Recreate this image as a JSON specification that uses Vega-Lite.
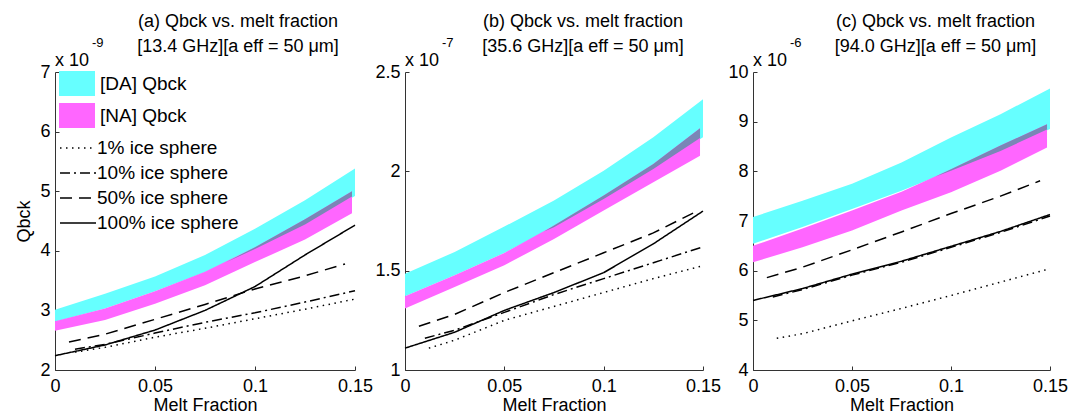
{
  "$schema": "https://vega.github.io/schema/vega-lite/v6.json",
  "background": "white",
  "padding": {"left": 15, "top": 13, "right": 5, "bottom": 0},
  "bounds": "flush",
  "spacing": 50,
  "config": {
    "font": "Liberation Sans",
    "view": {"stroke": null},
    "axis": {
      "labelFont": "Liberation Sans", "labelFontSize": 18, "labelColor": "#000",
      "titleFont": "Liberation Sans", "titleFontSize": 18, "titleFontWeight": "normal", "titleColor": "#000",
      "domainColor": "#333", "tickColor": "#333", "tickSize": -4, "labelPadding": 9,
      "grid": false, "labelFlush": false, "labelOverlap": false
    },
    "axisX": {"labelPadding": 11, "titlePadding": 1},
    "scale": {"nice": false, "zero": false},
    "title": {"font": "Liberation Sans", "fontSize": 18, "fontWeight": "normal", "color": "#000", "lineHeight": 25, "anchor": "middle", "offset": -19},
    "legend": {"labelFont": "Liberation Sans", "labelFontSize": 19, "labelColor": "#000", "padding": 0}
  },
  "datasets": {
    "bands": [
      {"p": "a", "m": "DA", "x": 0, "lo": 2.81, "hi": 3.01},
      {"p": "a", "m": "DA", "x": 0.025, "lo": 3.03, "hi": 3.28},
      {"p": "a", "m": "DA", "x": 0.05, "lo": 3.32, "hi": 3.57},
      {"p": "a", "m": "DA", "x": 0.075, "lo": 3.64, "hi": 3.93},
      {"p": "a", "m": "DA", "x": 0.1, "lo": 4.03, "hi": 4.37},
      {"p": "a", "m": "DA", "x": 0.125, "lo": 4.44, "hi": 4.85},
      {"p": "a", "m": "DA", "x": 0.15, "lo": 4.92, "hi": 5.38},
      {"p": "a", "m": "NA", "x": 0, "lo": 2.66, "hi": 2.82},
      {"p": "a", "m": "NA", "x": 0.025, "lo": 2.84, "hi": 3.03},
      {"p": "a", "m": "NA", "x": 0.05, "lo": 3.11, "hi": 3.32},
      {"p": "a", "m": "NA", "x": 0.075, "lo": 3.42, "hi": 3.65},
      {"p": "a", "m": "NA", "x": 0.1, "lo": 3.81, "hi": 4.06},
      {"p": "a", "m": "NA", "x": 0.125, "lo": 4.19, "hi": 4.53},
      {"p": "a", "m": "NA", "x": 0.1485, "lo": 4.63, "hi": 5.0},
      {"p": "b", "m": "DA", "x": 0, "lo": 1.371, "hi": 1.485},
      {"p": "b", "m": "DA", "x": 0.025, "lo": 1.477, "hi": 1.594},
      {"p": "b", "m": "DA", "x": 0.05, "lo": 1.589, "hi": 1.722},
      {"p": "b", "m": "DA", "x": 0.075, "lo": 1.719, "hi": 1.853},
      {"p": "b", "m": "DA", "x": 0.1, "lo": 1.861, "hi": 2.003},
      {"p": "b", "m": "DA", "x": 0.125, "lo": 2.012, "hi": 2.171},
      {"p": "b", "m": "DA", "x": 0.15, "lo": 2.171, "hi": 2.363},
      {"p": "b", "m": "NA", "x": 0, "lo": 1.309, "hi": 1.371},
      {"p": "b", "m": "NA", "x": 0.025, "lo": 1.418, "hi": 1.477},
      {"p": "b", "m": "NA", "x": 0.05, "lo": 1.527, "hi": 1.589},
      {"p": "b", "m": "NA", "x": 0.075, "lo": 1.66, "hi": 1.727},
      {"p": "b", "m": "NA", "x": 0.1, "lo": 1.803, "hi": 1.878},
      {"p": "b", "m": "NA", "x": 0.125, "lo": 1.945, "hi": 2.037},
      {"p": "b", "m": "NA", "x": 0.1485, "lo": 2.079, "hi": 2.217},
      {"p": "c", "m": "DA", "x": 0, "lo": 6.54, "hi": 7.08},
      {"p": "c", "m": "DA", "x": 0.025, "lo": 6.88, "hi": 7.41},
      {"p": "c", "m": "DA", "x": 0.05, "lo": 7.24, "hi": 7.75},
      {"p": "c", "m": "DA", "x": 0.075, "lo": 7.61, "hi": 8.18},
      {"p": "c", "m": "DA", "x": 0.1, "lo": 8.01, "hi": 8.68},
      {"p": "c", "m": "DA", "x": 0.125, "lo": 8.41, "hi": 9.15},
      {"p": "c", "m": "DA", "x": 0.15, "lo": 8.85, "hi": 9.67},
      {"p": "c", "m": "NA", "x": 0, "lo": 6.17, "hi": 6.5},
      {"p": "c", "m": "NA", "x": 0.025, "lo": 6.47, "hi": 6.85},
      {"p": "c", "m": "NA", "x": 0.05, "lo": 6.81, "hi": 7.21},
      {"p": "c", "m": "NA", "x": 0.075, "lo": 7.21, "hi": 7.59},
      {"p": "c", "m": "NA", "x": 0.1, "lo": 7.58, "hi": 8.04},
      {"p": "c", "m": "NA", "x": 0.125, "lo": 8.01, "hi": 8.52},
      {"p": "c", "m": "NA", "x": 0.1485, "lo": 8.48, "hi": 8.95}
    ],
    "overlap": [
      {"p": "a", "x": 0.085, "lo": 3.8, "hi": 3.8},
      {"p": "a", "x": 0.1, "lo": 4.03, "hi": 4.06},
      {"p": "a", "x": 0.125, "lo": 4.44, "hi": 4.53},
      {"p": "a", "x": 0.1485, "lo": 4.91, "hi": 5.0},
      {"p": "b", "x": 0.07, "lo": 1.697, "hi": 1.697},
      {"p": "b", "x": 0.075, "lo": 1.719, "hi": 1.727},
      {"p": "b", "x": 0.1, "lo": 1.861, "hi": 1.878},
      {"p": "b", "x": 0.125, "lo": 2.012, "hi": 2.037},
      {"p": "b", "x": 0.1485, "lo": 2.168, "hi": 2.217},
      {"p": "c", "x": 0.092, "lo": 7.89, "hi": 7.89},
      {"p": "c", "x": 0.1, "lo": 8.01, "hi": 8.04},
      {"p": "c", "x": 0.125, "lo": 8.41, "hi": 8.52},
      {"p": "c", "x": 0.1485, "lo": 8.84, "hi": 8.95}
    ],
    "lines": [
      {"p": "a", "s": "100%", "x": 0, "q": 2.24},
      {"p": "a", "s": "100%", "x": 0.025, "q": 2.42},
      {"p": "a", "s": "100%", "x": 0.05, "q": 2.67},
      {"p": "a", "s": "100%", "x": 0.075, "q": 3.0},
      {"p": "a", "s": "100%", "x": 0.1, "q": 3.4},
      {"p": "a", "s": "100%", "x": 0.125, "q": 3.93},
      {"p": "a", "s": "100%", "x": 0.15, "q": 4.43},
      {"p": "a", "s": "50%", "x": 0.007, "q": 2.47},
      {"p": "a", "s": "50%", "x": 0.025, "q": 2.6},
      {"p": "a", "s": "50%", "x": 0.05, "q": 2.85},
      {"p": "a", "s": "50%", "x": 0.075, "q": 3.1},
      {"p": "a", "s": "50%", "x": 0.1, "q": 3.36},
      {"p": "a", "s": "50%", "x": 0.125, "q": 3.58},
      {"p": "a", "s": "50%", "x": 0.145, "q": 3.78},
      {"p": "a", "s": "10%", "x": 0.01, "q": 2.35},
      {"p": "a", "s": "10%", "x": 0.025, "q": 2.43},
      {"p": "a", "s": "10%", "x": 0.05, "q": 2.62},
      {"p": "a", "s": "10%", "x": 0.075, "q": 2.8},
      {"p": "a", "s": "10%", "x": 0.1, "q": 2.96},
      {"p": "a", "s": "10%", "x": 0.125, "q": 3.14},
      {"p": "a", "s": "10%", "x": 0.15, "q": 3.33},
      {"p": "a", "s": "1%", "x": 0.01, "q": 2.3},
      {"p": "a", "s": "1%", "x": 0.025, "q": 2.38},
      {"p": "a", "s": "1%", "x": 0.05, "q": 2.55},
      {"p": "a", "s": "1%", "x": 0.075, "q": 2.7},
      {"p": "a", "s": "1%", "x": 0.1, "q": 2.86},
      {"p": "a", "s": "1%", "x": 0.125, "q": 3.02},
      {"p": "a", "s": "1%", "x": 0.15, "q": 3.19},
      {"p": "b", "s": "100%", "x": 0, "q": 1.11},
      {"p": "b", "s": "100%", "x": 0.025, "q": 1.19},
      {"p": "b", "s": "100%", "x": 0.05, "q": 1.3},
      {"p": "b", "s": "100%", "x": 0.075, "q": 1.39},
      {"p": "b", "s": "100%", "x": 0.1, "q": 1.49},
      {"p": "b", "s": "100%", "x": 0.125, "q": 1.635},
      {"p": "b", "s": "100%", "x": 0.15, "q": 1.8},
      {"p": "b", "s": "50%", "x": 0.007, "q": 1.22},
      {"p": "b", "s": "50%", "x": 0.025, "q": 1.28},
      {"p": "b", "s": "50%", "x": 0.05, "q": 1.39},
      {"p": "b", "s": "50%", "x": 0.075, "q": 1.49},
      {"p": "b", "s": "50%", "x": 0.1, "q": 1.59},
      {"p": "b", "s": "50%", "x": 0.125, "q": 1.69},
      {"p": "b", "s": "50%", "x": 0.145, "q": 1.79},
      {"p": "b", "s": "10%", "x": 0.01, "q": 1.16},
      {"p": "b", "s": "10%", "x": 0.025, "q": 1.2},
      {"p": "b", "s": "10%", "x": 0.05, "q": 1.29},
      {"p": "b", "s": "10%", "x": 0.075, "q": 1.38},
      {"p": "b", "s": "10%", "x": 0.1, "q": 1.46},
      {"p": "b", "s": "10%", "x": 0.125, "q": 1.54},
      {"p": "b", "s": "10%", "x": 0.15, "q": 1.62},
      {"p": "b", "s": "1%", "x": 0.012, "q": 1.11},
      {"p": "b", "s": "1%", "x": 0.025, "q": 1.15},
      {"p": "b", "s": "1%", "x": 0.05, "q": 1.25},
      {"p": "b", "s": "1%", "x": 0.075, "q": 1.32},
      {"p": "b", "s": "1%", "x": 0.1, "q": 1.39},
      {"p": "b", "s": "1%", "x": 0.125, "q": 1.46},
      {"p": "b", "s": "1%", "x": 0.15, "q": 1.525},
      {"p": "c", "s": "100%", "x": 0, "q": 5.4},
      {"p": "c", "s": "100%", "x": 0.025, "q": 5.64},
      {"p": "c", "s": "100%", "x": 0.05, "q": 5.93},
      {"p": "c", "s": "100%", "x": 0.075, "q": 6.19},
      {"p": "c", "s": "100%", "x": 0.1, "q": 6.49},
      {"p": "c", "s": "100%", "x": 0.125, "q": 6.79},
      {"p": "c", "s": "100%", "x": 0.15, "q": 7.13},
      {"p": "c", "s": "50%", "x": 0.007, "q": 5.86},
      {"p": "c", "s": "50%", "x": 0.025, "q": 6.07},
      {"p": "c", "s": "50%", "x": 0.05, "q": 6.42},
      {"p": "c", "s": "50%", "x": 0.075, "q": 6.78},
      {"p": "c", "s": "50%", "x": 0.1, "q": 7.15},
      {"p": "c", "s": "50%", "x": 0.125, "q": 7.5},
      {"p": "c", "s": "50%", "x": 0.145, "q": 7.81},
      {"p": "c", "s": "10%", "x": 0.01, "q": 5.47},
      {"p": "c", "s": "10%", "x": 0.025, "q": 5.62},
      {"p": "c", "s": "10%", "x": 0.05, "q": 5.91},
      {"p": "c", "s": "10%", "x": 0.075, "q": 6.17},
      {"p": "c", "s": "10%", "x": 0.1, "q": 6.47},
      {"p": "c", "s": "10%", "x": 0.125, "q": 6.77},
      {"p": "c", "s": "10%", "x": 0.15, "q": 7.1},
      {"p": "c", "s": "1%", "x": 0.012, "q": 4.64},
      {"p": "c", "s": "1%", "x": 0.025, "q": 4.73},
      {"p": "c", "s": "1%", "x": 0.05, "q": 4.99},
      {"p": "c", "s": "1%", "x": 0.075, "q": 5.24},
      {"p": "c", "s": "1%", "x": 0.1, "q": 5.5},
      {"p": "c", "s": "1%", "x": 0.125, "q": 5.77},
      {"p": "c", "s": "1%", "x": 0.15, "q": 6.04}
    ]
  },
  "resolve": {
    "scale": {"x": "independent", "y": "independent", "fill": "independent", "strokeDash": "independent"},
    "legend": {"fill": "independent", "strokeDash": "independent"}
  },
  "hconcat": [
    {
      "width": 300, "height": 298,
      "title": {"text": ["(a) Qbck vs. melt fraction", "[13.4 GHz][a eff = 50  μm]"], "dx": 33},
      "layer": [
        {
          "data": {"name": "bands"},
          "transform": [{"filter": "datum.p === 'a' && datum.m === 'DA'"}],
          "mark": {"type": "area"},
          "encoding": {
            "x": {"field": "x", "type": "quantitative", "scale": {"domain": [0, 0.15], "nice": false}, "axis": {"values": [0, 0.05, 0.1, 0.15], "format": "~r", "title": "Melt Fraction"}},
            "y": {"field": "lo", "type": "quantitative", "scale": {"domain": [2, 7], "nice": false}, "axis": {"values": [2, 3, 4, 5, 6, 7], "format": "~r", "title": "Qbck", "titlePadding": 6}},
            "y2": {"field": "hi"},
            "fill": {"field": "m", "type": "nominal", "scale": {"domain": ["DA", "NA"], "range": ["#66FFFF", "#FF66FF"]},
              "legend": {"orient": "none", "legendX": 9.5, "legendY": -1, "title": null, "symbolType": "M-1.44,-1L1.44,-1L1.44,1L-1.44,1Z", "symbolSize": 625, "symbolStrokeWidth": 0, "symbolOpacity": 1, "rowPadding": 7, "labelOffset": 10.5, "labelExpr": "'[' + datum.label + '] Qbck'"}}
          }
        },
        {
          "data": {"name": "bands"},
          "transform": [{"filter": "datum.p === 'a' && datum.m === 'NA'"}],
          "mark": {"type": "area"},
          "encoding": {
            "x": {"field": "x", "type": "quantitative"},
            "y": {"field": "lo", "type": "quantitative"},
            "y2": {"field": "hi"},
            "fill": {"field": "m", "type": "nominal"}
          }
        },
        {
          "data": {"name": "overlap"},
          "transform": [{"filter": "datum.p === 'a'"}],
          "mark": {"type": "area", "fill": "#7A86B6"},
          "encoding": {
            "x": {"field": "x", "type": "quantitative"},
            "y": {"field": "lo", "type": "quantitative"},
            "y2": {"field": "hi"}
          }
        },
        {
          "data": {"name": "lines"},
          "transform": [{"filter": "datum.p === 'a'"}],
          "mark": {"type": "line", "stroke": "black", "strokeWidth": 1.5},
          "encoding": {
            "x": {"field": "x", "type": "quantitative"},
            "y": {"field": "q", "type": "quantitative"},
            "strokeDash": {"field": "s", "type": "nominal", "scale": {"domain": ["1%", "10%", "50%", "100%"], "range": [[1.5, 4.5], [10, 4, 2, 4], [12, 7], [1, 0]]},
              "legend": {"orient": "none", "legendX": 10, "legendY": 63, "title": null, "symbolType": "M-1.5,0L1.5,0", "symbolSize": 576, "symbolFillColor": "transparent", "symbolStrokeColor": "black", "symbolStrokeWidth": 1.5, "rowPadding": 2, "labelOffset": 6, "labelExpr": "datum.label + ' ice sphere'"}}
          }
        },
        {
          "data": {"values": [{"t": "x 10", "e": "-9"}]},
          "mark": {"type": "text", "align": "left", "baseline": "alphabetic", "dy": -6, "fontSize": 18, "font": "Liberation Sans"},
          "encoding": {"x": {"datum": 0, "type": "quantitative"}, "y": {"datum": 7, "type": "quantitative"}, "text": {"field": "t"}}
        },
        {
          "data": {"values": [{"t": "x 10", "e": "-9"}]},
          "mark": {"type": "text", "align": "left", "baseline": "alphabetic", "dx": 37, "dy": -25, "fontSize": 13, "font": "Liberation Sans"},
          "encoding": {"x": {"datum": 0, "type": "quantitative"}, "y": {"datum": 7, "type": "quantitative"}, "text": {"field": "e"}}
        }
      ]
    },
    {
      "width": 298, "height": 298,
      "title": {"text": ["(b) Qbck vs. melt fraction", "[35.6 GHz][a eff = 50  μm]"], "dx": 29},
      "layer": [
        {
          "data": {"name": "bands"},
          "transform": [{"filter": "datum.p === 'b' && datum.m === 'DA'"}],
          "mark": {"type": "area"},
          "encoding": {
            "x": {"field": "x", "type": "quantitative", "scale": {"domain": [0, 0.15], "nice": false}, "axis": {"values": [0, 0.05, 0.1, 0.15], "format": "~r", "title": "Melt Fraction"}},
            "y": {"field": "lo", "type": "quantitative", "scale": {"domain": [1, 2.5], "nice": false}, "axis": {"values": [1, 1.5, 2, 2.5], "format": "~r", "title": null}},
            "y2": {"field": "hi"},
            "fill": {"field": "m", "type": "nominal", "scale": {"domain": ["DA", "NA"], "range": ["#66FFFF", "#FF66FF"]}, "legend": null}
          }
        },
        {
          "data": {"name": "bands"},
          "transform": [{"filter": "datum.p === 'b' && datum.m === 'NA'"}],
          "mark": {"type": "area"},
          "encoding": {
            "x": {"field": "x", "type": "quantitative"},
            "y": {"field": "lo", "type": "quantitative"},
            "y2": {"field": "hi"},
            "fill": {"field": "m", "type": "nominal", "legend": null}
          }
        },
        {
          "data": {"name": "overlap"},
          "transform": [{"filter": "datum.p === 'b'"}],
          "mark": {"type": "area", "fill": "#7A86B6"},
          "encoding": {
            "x": {"field": "x", "type": "quantitative"},
            "y": {"field": "lo", "type": "quantitative"},
            "y2": {"field": "hi"}
          }
        },
        {
          "data": {"name": "lines"},
          "transform": [{"filter": "datum.p === 'b'"}],
          "mark": {"type": "line", "stroke": "black", "strokeWidth": 1.5},
          "encoding": {
            "x": {"field": "x", "type": "quantitative"},
            "y": {"field": "q", "type": "quantitative"},
            "strokeDash": {"field": "s", "type": "nominal", "scale": {"domain": ["1%", "10%", "50%", "100%"], "range": [[1.5, 4.5], [10, 4, 2, 4], [12, 7], [1, 0]]}, "legend": null}
          }
        },
        {
          "data": {"values": [{"t": "x 10", "e": "-7"}]},
          "mark": {"type": "text", "align": "left", "baseline": "alphabetic", "dy": -6, "fontSize": 18, "font": "Liberation Sans"},
          "encoding": {"x": {"datum": 0, "type": "quantitative"}, "y": {"datum": 2.5, "type": "quantitative"}, "text": {"field": "t"}}
        },
        {
          "data": {"values": [{"t": "x 10", "e": "-7"}]},
          "mark": {"type": "text", "align": "left", "baseline": "alphabetic", "dx": 37, "dy": -25, "fontSize": 13, "font": "Liberation Sans"},
          "encoding": {"x": {"datum": 0, "type": "quantitative"}, "y": {"datum": 2.5, "type": "quantitative"}, "text": {"field": "e"}}
        }
      ]
    },
    {
      "width": 297, "height": 298,
      "title": {"text": ["(c) Qbck vs. melt fraction", "[94.0 GHz][a eff = 50  μm]"], "dx": 34},
      "layer": [
        {
          "data": {"name": "bands"},
          "transform": [{"filter": "datum.p === 'c' && datum.m === 'DA'"}],
          "mark": {"type": "area"},
          "encoding": {
            "x": {"field": "x", "type": "quantitative", "scale": {"domain": [0, 0.15], "nice": false}, "axis": {"values": [0, 0.05, 0.1, 0.15], "format": "~r", "title": "Melt Fraction"}},
            "y": {"field": "lo", "type": "quantitative", "scale": {"domain": [4, 10], "nice": false}, "axis": {"values": [4, 5, 6, 7, 8, 9, 10], "format": "~r", "title": null}},
            "y2": {"field": "hi"},
            "fill": {"field": "m", "type": "nominal", "scale": {"domain": ["DA", "NA"], "range": ["#66FFFF", "#FF66FF"]}, "legend": null}
          }
        },
        {
          "data": {"name": "bands"},
          "transform": [{"filter": "datum.p === 'c' && datum.m === 'NA'"}],
          "mark": {"type": "area"},
          "encoding": {
            "x": {"field": "x", "type": "quantitative"},
            "y": {"field": "lo", "type": "quantitative"},
            "y2": {"field": "hi"},
            "fill": {"field": "m", "type": "nominal", "legend": null}
          }
        },
        {
          "data": {"name": "overlap"},
          "transform": [{"filter": "datum.p === 'c'"}],
          "mark": {"type": "area", "fill": "#7A86B6"},
          "encoding": {
            "x": {"field": "x", "type": "quantitative"},
            "y": {"field": "lo", "type": "quantitative"},
            "y2": {"field": "hi"}
          }
        },
        {
          "data": {"name": "lines"},
          "transform": [{"filter": "datum.p === 'c'"}],
          "mark": {"type": "line", "stroke": "black", "strokeWidth": 1.5},
          "encoding": {
            "x": {"field": "x", "type": "quantitative"},
            "y": {"field": "q", "type": "quantitative"},
            "strokeDash": {"field": "s", "type": "nominal", "scale": {"domain": ["1%", "10%", "50%", "100%"], "range": [[1.5, 4.5], [10, 4, 2, 4], [12, 7], [1, 0]]}, "legend": null}
          }
        },
        {
          "data": {"values": [{"t": "x 10", "e": "-6"}]},
          "mark": {"type": "text", "align": "left", "baseline": "alphabetic", "dy": -6, "fontSize": 18, "font": "Liberation Sans"},
          "encoding": {"x": {"datum": 0, "type": "quantitative"}, "y": {"datum": 10, "type": "quantitative"}, "text": {"field": "t"}}
        },
        {
          "data": {"values": [{"t": "x 10", "e": "-6"}]},
          "mark": {"type": "text", "align": "left", "baseline": "alphabetic", "dx": 37, "dy": -25, "fontSize": 13, "font": "Liberation Sans"},
          "encoding": {"x": {"datum": 0, "type": "quantitative"}, "y": {"datum": 10, "type": "quantitative"}, "text": {"field": "e"}}
        }
      ]
    }
  ]
}
